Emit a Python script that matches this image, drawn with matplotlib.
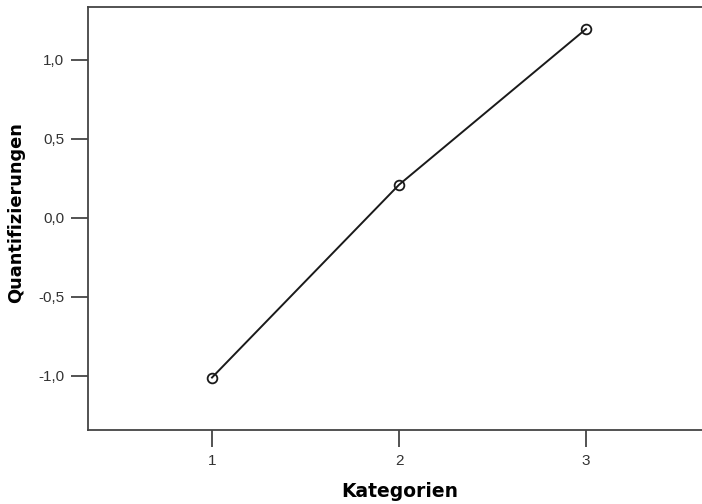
import matplotlib
matplotlib.use("Agg")
import matplotlib.pyplot as plt
from matplotlib.ticker import FuncFormatter

# Category quantifications
categories = [1, 2, 3]
quantifications = [-1.01, 0.21, 1.196]
y_ticks = [-1.0, -0.5, 0.0, 0.5, 1.0]

fig = plt.figure(figsize=(7.02, 5.04), dpi=100)
ax = fig.add_axes([88 / 702, 1 - 430 / 504, 1 - 88 / 702, (430 - 7) / 504])

ax.plot(categories, quantifications, color="#1a1a1a", linewidth=1.4,
        marker="o", markersize=7, markerfacecolor="none",
        markeredgecolor="#1a1a1a", markeredgewidth=1.3)

ax.set_xlim(0.337, 3.62)
ax.set_ylim(-1.342, 1.335)
ax.set_xticks(categories)
ax.set_yticks(y_ticks)
ax.yaxis.set_major_formatter(FuncFormatter(lambda v, _: f"{v:.1f}".replace(".", ",")))

for side in ("left", "bottom", "top"):
    ax.spines[side].set_color("#444444")
    ax.spines[side].set_linewidth(1.3)
ax.spines["right"].set_visible(False)

ax.tick_params(axis="both", direction="out", length=12, width=1.3,
               color="#444444", labelcolor="#333333", labelsize=11,
               pad=5, labelfontfamily="Liberation Sans")

ax.set_xlabel("Kategorien", fontsize=13.5, fontweight="bold",
              family="DejaVu Sans")
ax.set_ylabel("Quantifizierungen", fontsize=12.8, fontweight="bold",
              family="DejaVu Sans")
ax.xaxis.set_label_coords(0.508, -0.122)
ax.yaxis.set_label_coords(-0.1026, 0.513)

fig.savefig("out.png", dpi=100, facecolor="white")
